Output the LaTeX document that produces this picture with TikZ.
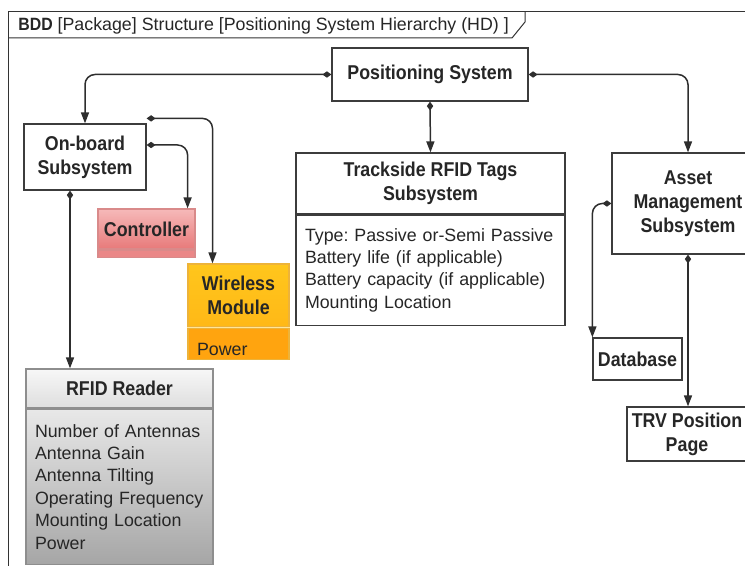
\documentclass[tikz,border=0pt]{standalone}
\usepackage{fontspec}
\setmainfont{Liberation Sans}[BoldFeatures={FakeStretch=0.89}]
\usetikzlibrary{arrows.meta, positioning}
\frenchspacing

\definecolor{linegray}{HTML}{2E2E2E}
\definecolor{boxgray}{HTML}{3C3C3C}
\definecolor{ctrltop}{HTML}{F6B9B9}
\definecolor{ctrlbot}{HTML}{E87A7A}
\definecolor{ctrledge}{HTML}{D98A8A}
\definecolor{wltop}{HTML}{FFC61C}
\definecolor{wlbot}{HTML}{FFA40F}
\definecolor{wledge}{HTML}{EDB33A}
\definecolor{rdredge}{HTML}{8E8E8E}

\tikzset{
    block/.style={draw=boxgray, line width=0.6pt, fill=white, font=\bfseries, align=center, inner sep=0pt, text=black!85},
    part/.style={draw=boxgray, line width=0.6pt, fill=white, align=left, inner xsep=4.5pt, inner ysep=0pt, text=black!85},
    link/.style={draw=linegray, line width=0.75pt, rounded corners=5pt, {Diamond[length=4.5pt,width=3.2pt]}-{Triangle[length=5.5pt,width=4pt]}}
}

\begin{document}
\begin{tikzpicture}[x=0.5pt, y=-0.5pt, every node/.style={font=\fontsize{8.9}{11.2}\selectfont}]
    \useasboundingbox (0,0) rectangle (745,566);
    \clip (0,0) rectangle (745,566);

    % Frame with header tab
    \draw[black!80, line width=0.5pt] (8,620) |- (800,12);
    \draw[black!80, line width=0.5pt] (8,38) -- (512,38) -- (525,22) -- (525,12);
    \node[anchor=west, inner sep=0pt, text=black!85] (hdr) at (18,26) {\textbf{BDD} [Package] Structure [Positioning System Hierarchy (HD) ]};

    % Blocks
    \node[block, minimum width=98pt, minimum height=26.5pt] (ps) at (430,74.5) {Positioning System};
    \node[block, minimum width=61pt, minimum height=33pt] (onb) at (85,157) {On-board\\Subsystem};
    \node[block, minimum width=76pt, minimum height=50.5pt] (asset) at (688,203.5) {Asset\\Management\\Subsystem};
    \node[block, minimum width=44.5pt, minimum height=21pt] (db) at (637.5,359) {Database};
    \node[block, minimum width=60pt, minimum height=27pt] (trv) at (687,434) {TRV Position\\Page};

    % Trackside tags
    \node[block, minimum width=134.5pt, minimum height=30.5pt] (tags) at (430.5,183.5) {Trackside RFID Tags\\Subsystem};
    \node[part, text width=125.5pt, minimum height=55pt, below=0pt of tags] (tagsb) {Type: Passive or-Semi Passive\\Battery life (if applicable)\\Battery capacity (if applicable)\\Mounting Location};

    % Controller
    \node[block, draw=ctrledge, top color=ctrltop, bottom color=ctrlbot, minimum width=48.5pt, minimum height=20pt] (ctrl) at (146.5,229) {Controller};
    \node[block, draw=ctrledge, fill=ctrlbot!90, minimum width=48.5pt, minimum height=3.5pt, below=0pt of ctrl] (ctrlb) {};

    % Wireless module
    \node[block, draw=wledge, top color=wltop, bottom color=wltop!60!wlbot, minimum width=50.5pt, minimum height=31.5pt] (wl) at (238.5,295.5) {Wireless\\Module};
    \node[part, draw=wledge, fill=wlbot, text width=41.5pt, minimum height=15.5pt, below=0pt of wl] (wlb) {\rule{0pt}{12pt}Power};
    \draw[white!55!wltop, line width=0.6pt] (wl.south west) -- (wl.south east);

    % RFID reader
    \node[block, draw=rdredge, top color=black!3, bottom color=black!13, minimum width=93.5pt, minimum height=19.5pt] (rdr) at (119.5,388.5) {RFID Reader};
    \node[part, draw=rdredge, top color=black!9, bottom color=black!35, text width=84.5pt, minimum height=77.5pt, below=0pt of rdr] (rdrb) {Number of Antennas\\Antenna Gain\\Antenna Tilting\\Operating Frequency\\Mounting Location\\Power};

    % Connectors
    \draw[link] (ps.west) -| (onb.north);
    \draw[link] (ps.east) -| (asset.north);
    \draw[link] (ps.south) -- (tags.north);
    \draw[link] ([yshift=2.5pt]onb.north east) -| ([xshift=-13pt]wl.north);
    \draw[link] ([yshift=6pt]onb.east) -| ([xshift=-4pt]ctrl.north east);
    \draw[link] ([xshift=-7.5pt]onb.south) -- ([xshift=-7.5pt]onb.south |- rdr.north);
    \draw[link] (asset.west) -| (db.north west);
    \draw[link] (asset.south) -- (asset.south |- trv.north);
\end{tikzpicture}
\end{document}
